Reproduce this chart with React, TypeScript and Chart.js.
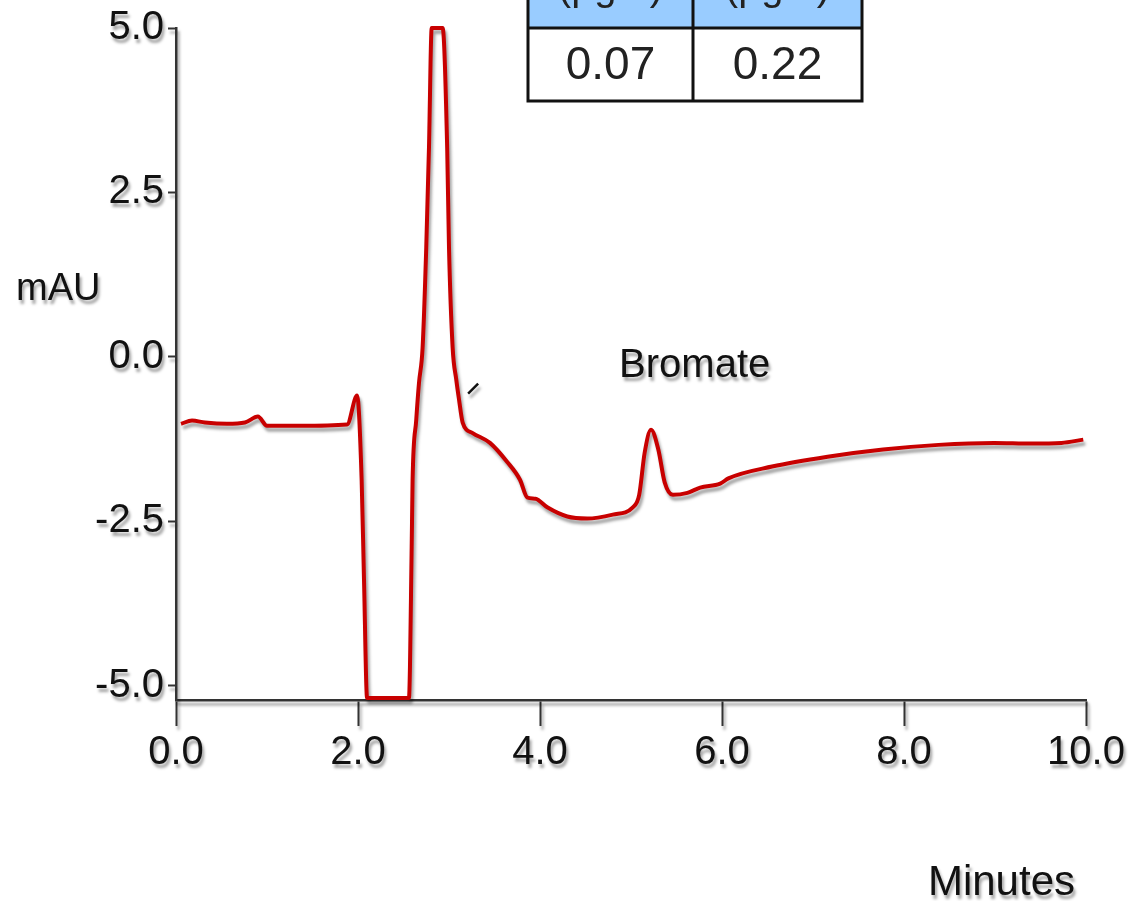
import React, { useEffect, useRef } from 'react';
import { Chart, registerables } from 'chart.js';

Chart.register(...registerables);

// Retention time (min) and detector signal (mAU) of the chromatogram trace
const timeMin = [
  0.055, 0.176, 0.319, 0.56, 0.758, 0.9, 1.0, 1.36, 1.88, 1.99,
  2.04, 2.066, 2.1, 2.56, 2.59, 2.6, 2.64, 2.67, 2.71, 2.75,
  2.78, 2.81, 2.93, 2.98, 3.0, 3.04, 3.08, 3.11, 3.15, 3.26,
  3.45, 3.64, 3.78, 3.86, 3.95, 4.08, 4.3, 4.52, 4.8, 5.02,
  5.09, 5.15, 5.22, 5.3, 5.37, 5.46, 5.62, 5.76, 5.98, 6.07,
  6.55, 7.16, 7.77, 8.38, 8.99, 9.4, 9.73, 9.97,
];
const signalMAU = [
  -1.02, -0.97, -1.0, -1.02, -1.0, -0.91, -1.05, -1.05, -1.03, -0.59,
  -1.87, -3.39, -5.19, -5.19, -2.89, -1.87, -0.96, -0.4, 0.14, 1.66,
  3.18, 5.0, 5.0, 3.18, 1.66, 0.14, -0.35, -0.65, -1.0, -1.16,
  -1.31, -1.6, -1.87, -2.14, -2.16, -2.29, -2.43, -2.46, -2.4, -2.29,
  -2.1, -1.46, -1.11, -1.41, -1.91, -2.1, -2.07, -1.99, -1.93, -1.85,
  -1.67, -1.52, -1.41, -1.34, -1.31, -1.32, -1.31, -1.26,
];

// Small slash mark next to the main peak tail
const slashTime = [3.21, 3.32];
const slashSignal = [-0.56, -0.41];

// Axis ticks
const xTickValues = [0, 2, 4, 6, 8, 10];
const yTickValues = [-5, -2.5, 0, 2.5, 5];

// Peak annotation (time, signal)
const peakName = 'Bromate';
const peakLabelAt = [5.7, -0.14];

// Axis captions
const yCaption = 'mAU';
const yCaptionAt = 1.02;
const xCaption = 'Minutes';

// Detection limit table (only its lower part is in view)
const tableUnits = ['(µg/L)', '(µg/L)'];
const tableValues = ['0.07', '0.22'];

const FONT = 'Arial, "Liberation Sans", sans-serif';

const tableBox = { left: 528, mid: 693, right: 862, headerBottom: 28, bottom: 101 };

const shadowPlugin = {
  id: 'softShadow',
  beforeDraw(chart: any) {
    const c = chart.ctx;
    c.save();
    c.shadowColor = 'rgba(0,0,0,0.36)';
    c.shadowOffsetX = 2;
    c.shadowOffsetY = 4;
    c.shadowBlur = 3;
  },
  afterDraw(chart: any) {
    chart.ctx.restore();
  },
};

const labelsPlugin = {
  id: 'chromLabels',
  afterDatasetsDraw(chart: any) {
    const c = chart.ctx;
    const xs = chart.scales.x;
    const ys = chart.scales.y;
    c.save();
    c.fillStyle = '#111';
    c.textBaseline = 'middle';

    c.font = `40px ${FONT}`;
    c.textAlign = 'center';
    c.fillText(peakName, xs.getPixelForValue(peakLabelAt[0]), ys.getPixelForValue(peakLabelAt[1]));

    c.font = `38px ${FONT}`;
    c.textAlign = 'left';
    c.fillText(yCaption, 16, ys.getPixelForValue(yCaptionAt));

    c.font = `42px ${FONT}`;
    c.textAlign = 'right';
    c.fillText(xCaption, xs.right - 11, chart.height - 18);
    c.restore();
  },
};

const tablePlugin = {
  id: 'limitsTable',
  afterDraw(chart: any) {
    const c = chart.ctx;
    const t = tableBox;
    c.save();
    c.fillStyle = '#99ccff';
    c.fillRect(t.left, -10, t.right - t.left, t.headerBottom + 10);
    c.fillStyle = '#ffffff';
    c.fillRect(t.left, t.headerBottom, t.right - t.left, t.bottom - t.headerBottom);

    c.strokeStyle = '#111';
    c.lineWidth = 3;
    c.beginPath();
    c.moveTo(t.left, -5);
    c.lineTo(t.left, t.bottom);
    c.lineTo(t.right, t.bottom);
    c.lineTo(t.right, -5);
    c.moveTo(t.mid, -5);
    c.lineTo(t.mid, t.bottom);
    c.moveTo(t.left, t.headerBottom);
    c.lineTo(t.right, t.headerBottom);
    c.stroke();

    const centers = [(t.left + t.mid) / 2, (t.mid + t.right) / 2];
    c.fillStyle = '#222';
    c.textAlign = 'center';
    c.textBaseline = 'alphabetic';
    c.font = `40px ${FONT}`;
    tableUnits.forEach((u, i) => c.fillText(u, centers[i], 0));
    c.textBaseline = 'middle';
    c.font = `46px ${FONT}`;
    tableValues.forEach((v, i) => c.fillText(v, centers[i], (t.headerBottom + t.bottom) / 2 + 2));
    c.restore();
  },
};

export default function App() {
  const canvasRef = useRef<HTMLCanvasElement | null>(null);

  useEffect(() => {
    if (!canvasRef.current) return;
    const chart = new Chart(canvasRef.current, {
      type: 'line',
      data: {
        datasets: [
          {
            label: 'Signal',
            data: timeMin.map((t, i) => ({ x: t, y: signalMAU[i] })),
            borderColor: '#c80000',
            borderWidth: 4,
            pointRadius: 0,
            cubicInterpolationMode: 'monotone',
            fill: false,
            clip: false as any,
          },
          {
            label: 'Mark',
            data: slashTime.map((t, i) => ({ x: t, y: slashSignal[i] })),
            borderColor: '#111',
            borderWidth: 2.5,
            pointRadius: 0,
            fill: false,
            clip: false as any,
          },
        ],
      },
      options: {
        responsive: false,
        animation: false,
        events: [],
        layout: { padding: { left: 0, top: 27, right: 44, bottom: 0 } },
        plugins: {
          legend: { display: false },
          tooltip: { enabled: false },
          title: { display: false },
        },
        scales: {
          x: {
            type: 'linear',
            min: 0,
            max: 10,
            afterBuildTicks: (s: any) => {
              s.ticks = xTickValues.map((v) => ({ value: v }));
            },
            afterFit: (s: any) => {
              s.height = 201;
            },
            grid: {
              drawOnChartArea: false,
              drawTicks: true,
              tickLength: 26,
              tickWidth: 2,
              tickColor: '#333',
            },
            border: { display: true, color: '#333', width: 2.5 },
            ticks: {
              padding: 3,
              maxRotation: 0,
              autoSkip: false,
              color: '#111',
              font: { family: FONT, size: 40 },
              callback: (v: any) => Number(v).toFixed(1),
            },
          },
          y: {
            type: 'linear',
            min: -5.22,
            max: 5.0,
            afterBuildTicks: (s: any) => {
              s.ticks = yTickValues.map((v) => ({ value: v }));
            },
            afterFit: (s: any) => {
              s.width = 176;
            },
            grid: {
              drawOnChartArea: false,
              drawTicks: true,
              tickLength: 8,
              tickWidth: 2,
              tickColor: '#333',
            },
            border: { display: true, color: '#333', width: 2.5 },
            ticks: {
              padding: 4,
              autoSkip: false,
              color: '#111',
              font: { family: FONT, size: 40 },
              callback: (v: any) => Number(v).toFixed(1),
            },
          },
        },
      },
      plugins: [shadowPlugin, labelsPlugin, tablePlugin],
    } as any);
    return () => chart.destroy();
  }, []);

  return (
    <div style={{ position: 'absolute', left: 0, top: 0, width: 1130, height: 901, background: '#fff' }}>
      <canvas ref={canvasRef} width={1130} height={901} style={{ display: 'block' }} />
    </div>
  );
}
